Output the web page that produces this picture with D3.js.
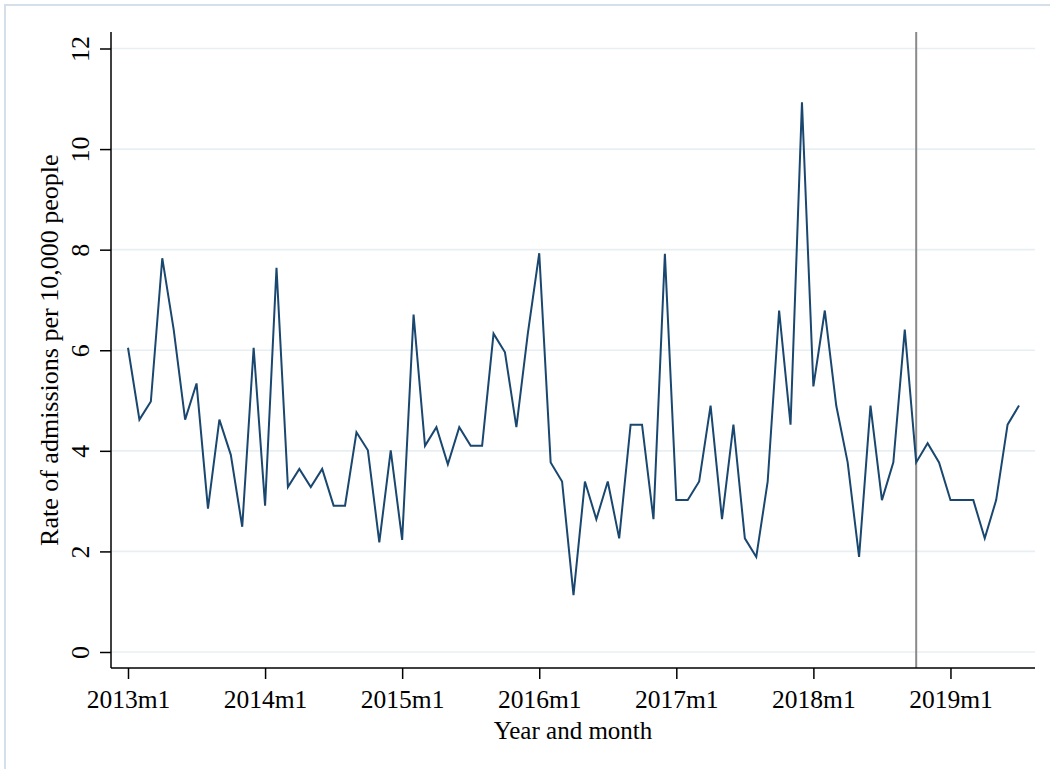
<!DOCTYPE html>
<html lang="en">
<head>
    <meta charset="UTF-8">
    <title>Rate of admissions per 10,000 people</title>
    <script src="https://d3js.org/d3.v7.min.js"></script>
    <style>
        body {
            margin: 0;
            background: #fff;
        }
        svg text {
            font-family: "Liberation Serif", "Times New Roman", serif;
            fill: #000;
        }
        .grid line {
            stroke: #e8eff2;
            stroke-width: 1.6px;
        }
        .series {
            fill: none;
            stroke: #1a476f;
            stroke-width: 2px;
            stroke-linejoin: miter;
        }
    </style>
</head>
<body>
    <svg id="chart" width="1050" height="769"></svg>

    <script>
        // monthly rates, 2013m1 .. 2019m7
        const startYear = 2013;
        const rates = [
            6.05, 4.62, 4.98, 7.83, 6.41, 4.62, 5.34, 2.85, 4.62, 3.92, 2.49, 6.05,
            2.91, 7.64, 3.28, 3.64, 3.28, 3.64, 2.91, 2.91, 4.37, 4.01, 2.18, 4.01,
            2.23, 6.71, 4.10, 4.47, 3.73, 4.47, 4.10, 4.10, 6.33, 5.96, 4.47, 6.33,
            7.93, 3.77, 3.39, 1.13, 3.39, 2.64, 3.39, 2.26, 4.52, 4.52, 2.64, 7.92,
            3.02, 3.02, 3.39, 4.90, 2.64, 4.52, 2.26, 1.89, 3.39, 6.79, 4.52, 10.93,
            5.28, 6.79, 4.90, 3.77, 1.89, 4.90, 3.02, 3.77, 6.41, 3.77, 4.15, 3.77,
            3.02, 3.02, 3.02, 2.26, 3.02, 4.52, 4.90
        ];
        const months = rates.map((v, i) => `${startYear + Math.floor(i / 12)}m${i % 12 + 1}`);
        const xTickLabels = ["2013m1", "2014m1", "2015m1", "2016m1", "2017m1", "2018m1", "2019m1"];
        const yTicks = [0, 2, 4, 6, 8, 10, 12];
        const markerMonth = "2018m10";

        const data = rates.map((v, i) => ({month: months[i], idx: i, rate: v}));

        const svg = d3.select("#chart");
        const plot = {left: 111, right: 1035, top: 32, bottom: 668};

        // light frame on the graph region (top and left edges visible)
        svg.append("rect")
            .attr("x", 5).attr("y", 5)
            .attr("width", 1100).attr("height", 900)
            .attr("fill", "none")
            .attr("stroke", "#d5dfe9")
            .attr("stroke-width", 2);

        const x = d3.scaleLinear()
            .domain([0, months.length - 1])
            .range([128, 1019]);

        const y = d3.scaleLinear()
            .domain([0, 12])
            .range([652, 48.5]);

        // horizontal grid
        svg.append("g")
            .attr("class", "grid")
            .selectAll("line")
            .data(yTicks)
            .enter().append("line")
            .attr("x1", plot.left)
            .attr("x2", plot.right)
            .attr("y1", d => y(d))
            .attr("y2", d => y(d));

        // vertical reference line
        svg.append("line")
            .attr("x1", x(months.indexOf(markerMonth)))
            .attr("x2", x(months.indexOf(markerMonth)))
            .attr("y1", plot.top)
            .attr("y2", plot.bottom)
            .attr("stroke", "#8a8a8a")
            .attr("stroke-width", 2);

        const line = d3.line()
            .x(d => x(d.idx))
            .y(d => y(d.rate));

        svg.append("path")
            .datum(data)
            .attr("class", "series")
            .attr("d", line);

        // y axis
        const yAxis = d3.axisLeft(y)
            .tickValues(yTicks)
            .tickSize(11)
            .tickPadding(11);

        const gy = svg.append("g")
            .attr("transform", `translate(${plot.left},0)`)
            .call(yAxis);
        gy.select(".domain").remove();
        gy.append("line")
            .attr("x1", 0).attr("x2", 0)
            .attr("y1", plot.top).attr("y2", plot.bottom)
            .attr("stroke", "#000")
            .attr("stroke-width", 1.5);
        gy.selectAll(".tick line").attr("stroke", "#000").attr("stroke-width", 1.5);
        gy.selectAll(".tick text")
            .attr("font-size", 26)
            .attr("fill", "#000")
            .attr("text-anchor", "middle")
            .attr("dy", 0)
            .attr("x", 0)
            .attr("transform", "translate(-22,0) rotate(-90)");

        // x axis
        const xAxis = d3.axisBottom(x)
            .tickValues(xTickLabels.map(m => months.indexOf(m)))
            .tickFormat(i => months[i])
            .tickSize(11)
            .tickPadding(11);

        const gx = svg.append("g")
            .attr("transform", `translate(0,${plot.bottom})`)
            .call(xAxis);
        gx.select(".domain").remove();
        gx.append("line")
            .attr("x1", plot.left).attr("x2", plot.right)
            .attr("y1", 0).attr("y2", 0)
            .attr("stroke", "#000")
            .attr("stroke-width", 1.5);
        gx.selectAll(".tick line").attr("stroke", "#000").attr("stroke-width", 1.5);
        gx.selectAll(".tick text")
            .attr("font-size", 25.5)
            .attr("fill", "#000");

        // axis titles
        svg.append("text")
            .attr("x", (plot.left + plot.right) / 2)
            .attr("y", 739)
            .attr("text-anchor", "middle")
            .attr("font-size", 25)
            .text("Year and month");

        svg.append("text")
            .attr("transform", `translate(58,${y(6)}) rotate(-90)`)
            .attr("text-anchor", "middle")
            .attr("font-size", 26)
            .text("Rate of admissions per 10,000 people");
    </script>
</body>
</html>
